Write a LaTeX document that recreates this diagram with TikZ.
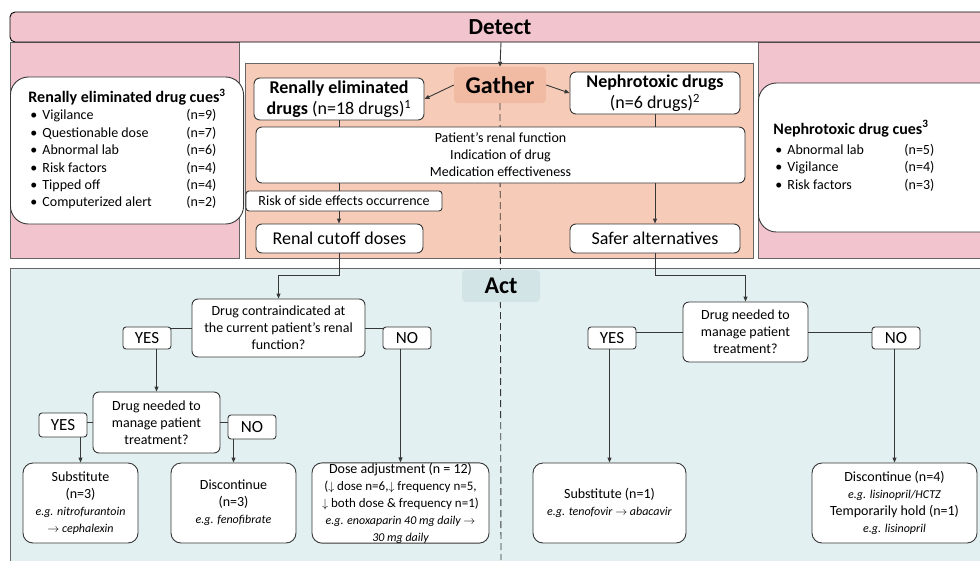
\documentclass[tikz,border=0pt]{standalone}
\usepackage{fontspec}
\setmainfont{Carlito}
\usetikzlibrary{arrows.meta}
\definecolor{detectpink}{RGB}{242,196,206}
\definecolor{gatherfill}{RGB}{246,204,184}
\definecolor{gatherlabel}{RGB}{240,186,163}
\definecolor{actfill}{RGB}{226,240,241}
\definecolor{actlabel}{RGB}{210,228,230}
\definecolor{edge}{RGB}{55,55,55}
\newcommand{\eg}[1]{{\fontsize{12}{15}\selectfont\itshape #1}}

\begin{document}
\begin{tikzpicture}[x=1pt,y=-1pt,>={Triangle[length=5pt,width=4pt]}]
\tikzstyle{box}=[draw=edge,fill=white,line width=0.9pt,rounded corners=6pt,align=center,inner sep=0pt,font=\fontsize{14}{17}\selectfont]
\tikzstyle{big}=[box,font=\fontsize{18}{21}\selectfont]
\tikzstyle{answer}=[box,rounded corners=3pt,minimum width=48,minimum height=22,font=\fontsize{17}{20}\selectfont]
\tikzstyle{outcome}=[box,rounded corners=10pt,minimum height=80]
\tikzstyle{cues}=[box,rounded corners=18pt,anchor=west,align=left,font=\fontsize{14}{17.4}\selectfont]
\tikzstyle{panel}=[draw=black!60,line width=0.7pt]
\tikzstyle{phase}=[rounded corners=4pt,font=\bfseries\fontsize{24}{28}\selectfont]
\tikzstyle{link}=[draw=edge,line width=0.9pt]

\useasboundingbox (0,0) rectangle (980,560);
\fill[white] (0,0) rectangle (980,560);
% phase panels
\draw[panel,fill=detectpink] (10,42) rectangle (239,258);
\draw[panel,fill=detectpink] (758,42) rectangle (995,258);
\draw[panel,fill=gatherfill] (245,63) rectangle (753,258);
\draw[panel,fill=actfill] (10,268) rectangle (995,570);
\draw[line width=0.9pt,fill=detectpink,rounded corners=5pt] (10,12) rectangle (1000,42);
\node (detect) at (500,27) [font=\bfseries\fontsize{23}{27}\selectfont] {Detect};
\coordinate (detectbase) at (501,42);
\node (gather) [phase,fill=gatherlabel,minimum width=92,minimum height=36] at (500,85) {Gather};
\coordinate (dashend) at (501,560);
\draw[link,dash pattern=on 7pt off 4pt] (gather.south) -- (dashend);
\node (act) [phase,fill=actlabel,minimum width=78,minimum height=32] at (501,286) {Act};

% cues
\node (renalcues) [cues,minimum height=147,inner xsep=18pt] at (10,150.5) {\begin{tabular}{@{}p{158pt}@{}p{37pt}@{}}
\multicolumn{2}{@{}l@{}}{\fontsize{16}{17.4}\selectfont\bfseries Renally eliminated drug cues\textsuperscript{3}}\\
\hspace*{2pt}\textbullet\hspace{5pt}Vigilance & (n=9)\\
\hspace*{2pt}\textbullet\hspace{5pt}Questionable dose & (n=7)\\
\hspace*{2pt}\textbullet\hspace{5pt}Abnormal lab & (n=6)\\
\hspace*{2pt}\textbullet\hspace{5pt}Risk factors & (n=4)\\
\hspace*{2pt}\textbullet\hspace{5pt}Tipped off & (n=4)\\
\hspace*{2pt}\textbullet\hspace{5pt}Computerized alert & (n=2)
\end{tabular}};
\node (nephrocues) [cues,minimum height=149,inner xsep=15pt] at (758,157.5) {\begin{tabular}{@{}p{131pt}@{}p{94pt}@{}}
\multicolumn{2}{@{}l@{}}{\fontsize{16}{17.4}\selectfont\bfseries Nephrotoxic drug cues\textsuperscript{3}}\\[3pt]
\hspace*{2pt}\textbullet\hspace{5pt}Abnormal lab & (n=5)\\
\hspace*{2pt}\textbullet\hspace{5pt}Vigilance & (n=4)\\
\hspace*{2pt}\textbullet\hspace{5pt}Risk factors & (n=3)
\end{tabular}};

% gather
\node (renal) [big,minimum width=170,minimum height=42] at (339,99) {\textbf{Renally eliminated}\\\textbf{drugs} (n=18 drugs)\textsuperscript{1}};
\node (nephro) [big,minimum width=170,minimum height=42] at (655,93) {\textbf{Nephrotoxic drugs}\\(n=6 drugs)\textsuperscript{2}};
\node (checks) [box,minimum width=489,minimum height=56] at (500.5,155) {Patient's renal function\\Indication of drug\\Medication effectiveness};
\node (risk) [box,rounded corners=3pt,minimum width=196,minimum height=20] at (344,201) {Risk of side effects occurrence};
\node (cutoff) [big,minimum width=167,minimum height=29] at (339.5,238.5) {Renal cutoff doses};
\node (safer) [big,minimum width=170,minimum height=29] at (655,238.5) {Safer alternatives};

% act
\node (contra) [box,minimum width=173,minimum height=58] at (278.5,328) {Drug contraindicated at\\the current patient's renal\\function?};
\node (yesA) [answer] at (147,338) {YES};
\node (noA) [answer] at (407,338) {NO};
\node (needA) [box,minimum width=127,minimum height=61] at (156.5,422.5) {Drug needed to\\manage patient\\treatment?};
\node (yesB) [answer,minimum height=24] at (63,425) {YES};
\node (noB) [answer,minimum height=24] at (252,427) {NO};
\node (subA) [outcome,minimum width=115] at (80.5,503) {Substitute\\(n=3)\\\eg{e.g. nitrofurantoin}\\\eg{$\rightarrow$ cephalexin}};
\node (discA) [outcome,minimum width=125] at (233.5,503) {Discontinue\\(n=3)\\\eg{e.g. fenofibrate}};
\node (dose) [outcome,minimum width=177] at (400.5,503) {Dose adjustment (n = 12)\\
{\fontsize{13}{15}\selectfont($\downarrow$ dose n=6,$\downarrow$ frequency n=5,}\\
{\fontsize{13}{15}\selectfont$\downarrow$ both dose \& frequency n=1)}\\
\eg{e.g. enoxaparin 40 mg daily $\rightarrow$}\\
\eg{30 mg daily}};
\node (needB) [box,minimum width=125,minimum height=60] at (745.5,332) {Drug needed to\\manage patient\\treatment?};
\node (yesC) [answer] at (612,338) {YES};
\node (noC) [answer] at (896,338) {NO};
\node (subB) [outcome,minimum width=153] at (609.5,503) {Substitute (n=1)\\\eg{e.g. tenofovir $\rightarrow$ abacavir}};
\node (discB) [outcome,minimum width=165] at (894.5,503) {Discontinue (n=4)\\\eg{e.g. lisinopril/HCTZ}\\Temporarily hold (n=1)\\\eg{e.g. lisinopril}};

% connectors
\draw[link,->] (detectbase) -- (gather.north);
\draw[link,->] (gather.west) -- (renal.east);
\draw[link,->] (gather.east) -- (nephro.west);
\draw[link] (renal.south) -- (renal.south |- checks.north);
\draw[link] (checks.south -| renal.south) -- (risk.north -| renal.south);
\draw[link,->] (risk.south -| renal.south) -- (cutoff.north -| renal.south);
\draw[link] (nephro.south) -- (nephro.south |- checks.north);
\draw[link,->] (checks.south -| safer.north) -- (safer.north);
\draw[link,->] (cutoff.south) -- ++(0,22) -| (contra.north);
\draw[link,->] (safer.south) -- ++(0,22) -| (needB.north);
\draw[link] (contra.west) -- (contra.west -| yesA.east);
\draw[link] (contra.east) -- (contra.east -| noA.west);
\draw[link,->] (yesA.south -| needA.north) -- (needA.north);
\draw[link,->] (noA.south -| dose.north) -- (dose.north);
\draw[link] (needA.west) -- (needA.west -| yesB.east);
\draw[link] (needA.east) -- (needA.east -| noB.west);
\draw[link,->] (yesB.south -| subA.north) -- (subA.north);
\draw[link,->] (noB.south -| discA.north) -- (discA.north);
\draw[link] (needB.west) -- (needB.west -| yesC.east);
\draw[link] (needB.east) -- (needB.east -| noC.west);
\draw[link,->] (yesC.south -| subB.north) -- (subB.north);
\draw[link,->] (noC.south -| discB.north) -- (discB.north);
\end{tikzpicture}
\end{document}
